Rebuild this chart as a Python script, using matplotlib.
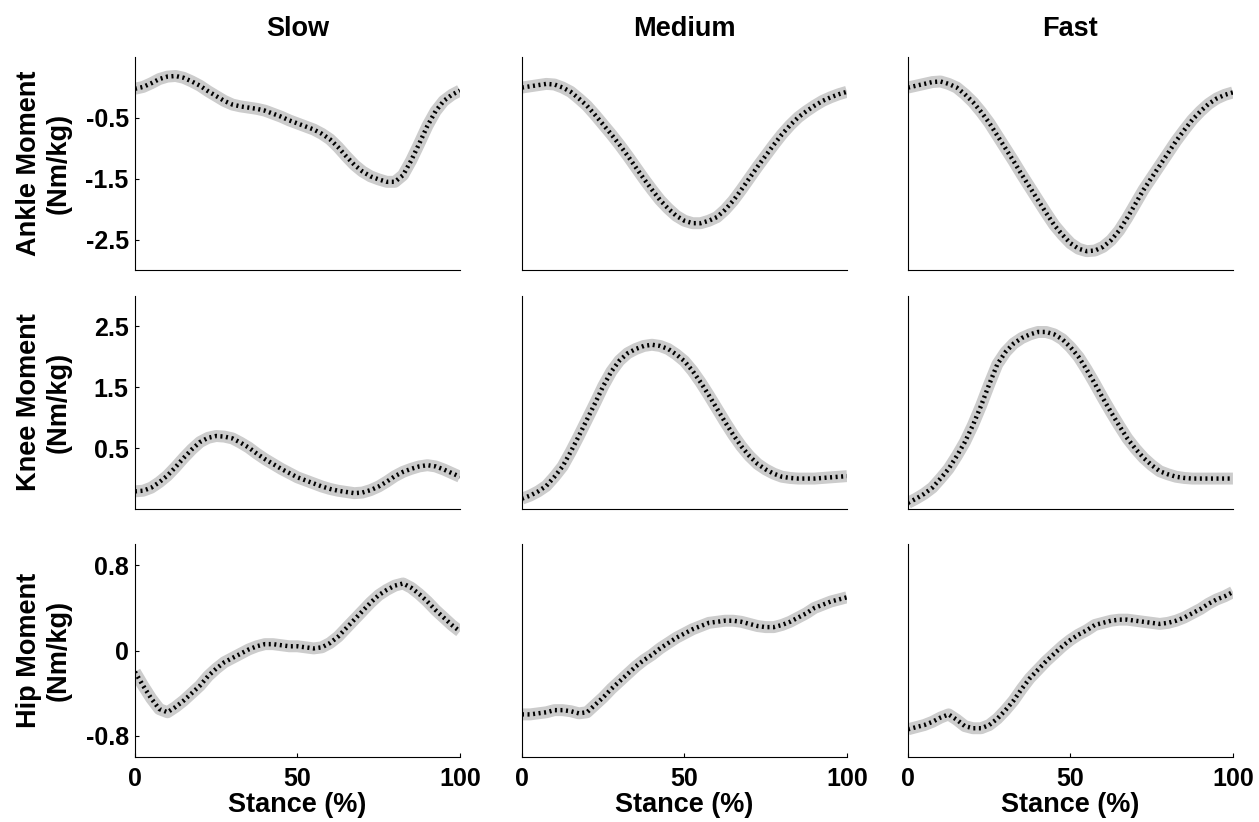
import numpy as np
import matplotlib.pyplot as plt

plt.rcParams['font.family'] = ['Liberation Sans', 'DejaVu Sans']
plt.rcParams['font.weight'] = 'bold'
plt.rcParams['axes.unicode_minus'] = False

# stance phase (%) sampled every 2.5 %
stance = [i * 2.5 for i in range(41)]

speeds = ["Slow", "Medium", "Fast"]
joints = ["Ankle", "Knee", "Hip"]

# ankle moment (Nm/kg)
ankle_slow = [-0.02, 0.01, 0.07, 0.14, 0.18, 0.19, 0.16, 0.10, 0.03, -0.06,
              -0.14, -0.22, -0.28, -0.31, -0.33, -0.35, -0.38, -0.43, -0.48, -0.54,
              -0.59, -0.64, -0.69, -0.76, -0.85, -0.98, -1.13, -1.27, -1.38, -1.46,
              -1.51, -1.55, -1.55, -1.44, -1.20, -0.92, -0.63, -0.39, -0.22, -0.12,
              -0.05]
ankle_medium = [0.00, 0.02, 0.04, 0.06, 0.05, 0.00, -0.07, -0.18, -0.30, -0.45,
                -0.61, -0.77, -0.94, -1.12, -1.31, -1.50, -1.68, -1.85, -1.99, -2.11,
                -2.19, -2.23, -2.23, -2.19, -2.13, -2.01, -1.86, -1.68, -1.49, -1.30,
                -1.12, -0.94, -0.77, -0.62, -0.49, -0.39, -0.30, -0.22, -0.16, -0.11,
                -0.07]
ankle_fast = [0.00, 0.03, 0.06, 0.09, 0.10, 0.06, 0.00, -0.11, -0.24, -0.40,
              -0.58, -0.79, -1.00, -1.21, -1.43, -1.64, -1.85, -2.06, -2.26, -2.42,
              -2.56, -2.65, -2.69, -2.68, -2.62, -2.51, -2.35, -2.14, -1.91, -1.68,
              -1.48, -1.28, -1.08, -0.88, -0.70, -0.53, -0.39, -0.27, -0.18, -0.12,
              -0.08]

# knee moment (Nm/kg)
knee_slow = [-0.21, -0.20, -0.15, -0.06, 0.05, 0.19, 0.34, 0.48, 0.60, 0.67,
             0.70, 0.69, 0.66, 0.59, 0.51, 0.41, 0.32, 0.24, 0.16, 0.09,
             0.02, -0.03, -0.08, -0.13, -0.17, -0.20, -0.22, -0.24, -0.23, -0.19,
             -0.13, -0.05, 0.04, 0.11, 0.16, 0.20, 0.22, 0.20, 0.15, 0.09,
             0.03]
knee_medium = [-0.33, -0.28, -0.21, -0.12, 0.03, 0.20, 0.44, 0.70, 0.97, 1.24,
               1.52, 1.76, 1.94, 2.06, 2.13, 2.18, 2.20, 2.18, 2.13, 2.04,
               1.93, 1.77, 1.58, 1.37, 1.15, 0.93, 0.72, 0.53, 0.37, 0.24,
               0.15, 0.08, 0.03, 0.01, 0.00, 0.00, 0.00, 0.01, 0.02, 0.03,
               0.04]
knee_fast = [-0.40, -0.33, -0.25, -0.15, 0.00, 0.16, 0.37, 0.60, 0.88, 1.20,
             1.55, 1.88, 2.08, 2.22, 2.31, 2.37, 2.41, 2.41, 2.37, 2.29,
             2.16, 2.00, 1.79, 1.56, 1.32, 1.09, 0.87, 0.66, 0.49, 0.34,
             0.22, 0.12, 0.07, 0.03, 0.01, 0.00, 0.00, 0.00, 0.00, 0.00,
             0.00]

# hip moment (Nm/kg)
hip_slow = [-0.20, -0.33, -0.45, -0.55, -0.58, -0.53, -0.47, -0.40, -0.33, -0.24,
            -0.17, -0.11, -0.07, -0.03, 0.01, 0.04, 0.06, 0.06, 0.05, 0.04,
            0.04, 0.03, 0.02, 0.03, 0.07, 0.13, 0.21, 0.29, 0.37, 0.45,
            0.52, 0.57, 0.61, 0.63, 0.59, 0.53, 0.46, 0.38, 0.31, 0.24,
            0.18]
hip_medium = [-0.60, -0.60, -0.59, -0.58, -0.56, -0.56, -0.57, -0.59, -0.58, -0.51,
              -0.44, -0.36, -0.29, -0.22, -0.15, -0.09, -0.04, 0.02, 0.07, 0.12,
              0.16, 0.20, 0.23, 0.26, 0.27, 0.28, 0.28, 0.27, 0.25, 0.23,
              0.22, 0.22, 0.24, 0.27, 0.31, 0.35, 0.40, 0.43, 0.46, 0.48,
              0.50]
hip_fast = [-0.74, -0.72, -0.70, -0.67, -0.63, -0.60, -0.65, -0.71, -0.73, -0.73,
            -0.70, -0.64, -0.56, -0.47, -0.36, -0.26, -0.18, -0.10, -0.03, 0.04,
            0.10, 0.15, 0.19, 0.24, 0.26, 0.28, 0.29, 0.29, 0.28, 0.27,
            0.26, 0.25, 0.26, 0.28, 0.31, 0.35, 0.39, 0.44, 0.48, 0.51,
            0.55]

curves = [[ankle_slow, ankle_medium, ankle_fast],
          [knee_slow, knee_medium, knee_fast],
          [hip_slow, hip_medium, hip_fast]]

ylims = [(-3, 0.5), (-0.5, 3), (-1, 1)]
yticks = [[-2.5, -1.5, -0.5], [0.5, 1.5, 2.5], [-0.8, 0, 0.8]]
yticklabels = [["-2.5", "-1.5", "-0.5"], ["0.5", "1.5", "2.5"], ["-0.8", "0", "0.8"]]

fig = plt.figure(figsize=(12.59, 8.22), dpi=100)

lefts = [0.1072, 0.4146, 0.7212]
bottoms = [0.6715, 0.3808, 0.0791]
w, h = 0.2581, 0.259

for r in range(3):
    for c in range(3):
        ax = fig.add_axes([lefts[c], bottoms[r], w, h])
        y = curves[r][c]
        # gray band under the mean curve
        ax.plot(stance, y, color=(0.8, 0.8, 0.8), lw=8.6, solid_capstyle='butt',
                solid_joinstyle='round', zorder=2)
        ax.plot(stance, y, color='black', lw=3.2, linestyle=(0, (0.45, 0.8)),
                dash_capstyle='butt', zorder=3)
        ax.set_xlim(0, 100)
        ax.set_ylim(*ylims[r])
        for s in ['top', 'right']:
            ax.spines[s].set_visible(False)
        for s in ['left', 'bottom']:
            ax.spines[s].set_linewidth(0.8)
        ax.tick_params(direction='in', length=3, width=0.8, labelsize=18)

        if c == 0:
            ax.set_yticks(yticks[r])
            ax.set_yticklabels(yticklabels[r], fontweight='bold')
            ax.tick_params(axis='y', pad=4.5)
            ax.set_ylabel(joints[r] + " Moment\n(Nm/kg)", fontsize=19.5, fontweight='bold')
            ax.yaxis.set_label_coords(-0.194, 0.5)
        else:
            ax.set_yticks([])

        if r == 2:
            ax.set_xticks([0, 50, 100])
            ax.set_xticklabels(["0", "50", "100"], fontweight='bold')
            ax.tick_params(axis='x', pad=7)
            ax.set_xlabel("Stance (%)", fontsize=19.5, fontweight='bold', labelpad=1)
        else:
            ax.set_xticks([])

        if r == 0:
            ax.set_title(speeds[c], fontsize=19.5, fontweight='bold', pad=15)

fig.savefig("out.png", dpi=100)
